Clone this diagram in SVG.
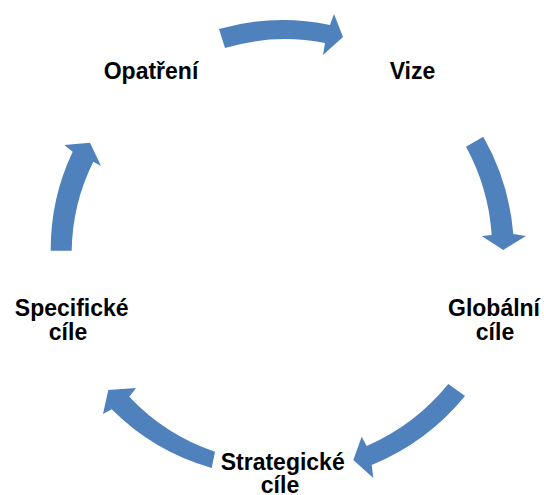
<svg xmlns="http://www.w3.org/2000/svg" width="544" height="495" viewBox="0 0 544 495">
  <style>
    .lbl { font-family: "Liberation Sans", Arial, sans-serif; font-weight: bold; font-size: 23px; fill: #000000; text-anchor: middle; }
    .arr { fill: #4F81BD; stroke: none; }
  </style>
  <rect width="544" height="495" fill="#ffffff"/>
  <g id="connectors">
    <path class="arr" d="M219,29 A230,230 0 0 1 330,25 L334,14 L343,37 L323,55 L325,43 A210,210 0 0 0 225,48 Z"/>
    <path class="arr" d="M483.3,136.7 A235,235 0 0 1 513.3,234 L526,236 L503.3,250 L481.7,236 L491.7,235 A214,214 0 0 0 466,146.7 Z"/>
    <path class="arr" d="M465,396 A236,236 0 0 1 371.7,465 L373.3,478 L353.3,460 L361.7,436.7 L366.7,446 A216,216 0 0 0 448.3,384 Z"/>
    <path class="arr" d="M211.7,468 A229,229 0 0 1 111.7,409.3 L103,414 L108.3,390 L136,388 L129.3,396.7 A210,210 0 0 0 215,451.7 Z"/>
    <path class="arr" d="M50.7,250.7 A227,227 0 0 1 72.7,151.7 L64.3,145 L90,142.7 L101,166 L93.3,161.7 A206,206 0 0 0 71.7,250.7 Z"/>
  </g>
  <g id="node-opatreni"><text class="lbl" x="151" y="79">Opatření</text></g>
  <g id="node-vize"><text class="lbl" x="412.5" y="79">Vize</text></g>
  <g id="node-globalni"><text class="lbl" x="494" y="316">Globální<tspan x="495" y="340">cíle</tspan></text></g>
  <g id="node-strategicke"><text class="lbl" x="282.7" y="470">Strategické<tspan x="280" y="493">cíle</tspan></text></g>
  <g id="node-specificke"><text class="lbl" x="71.7" y="316">Specifické<tspan x="68" y="340">cíle</tspan></text></g>
</svg>
